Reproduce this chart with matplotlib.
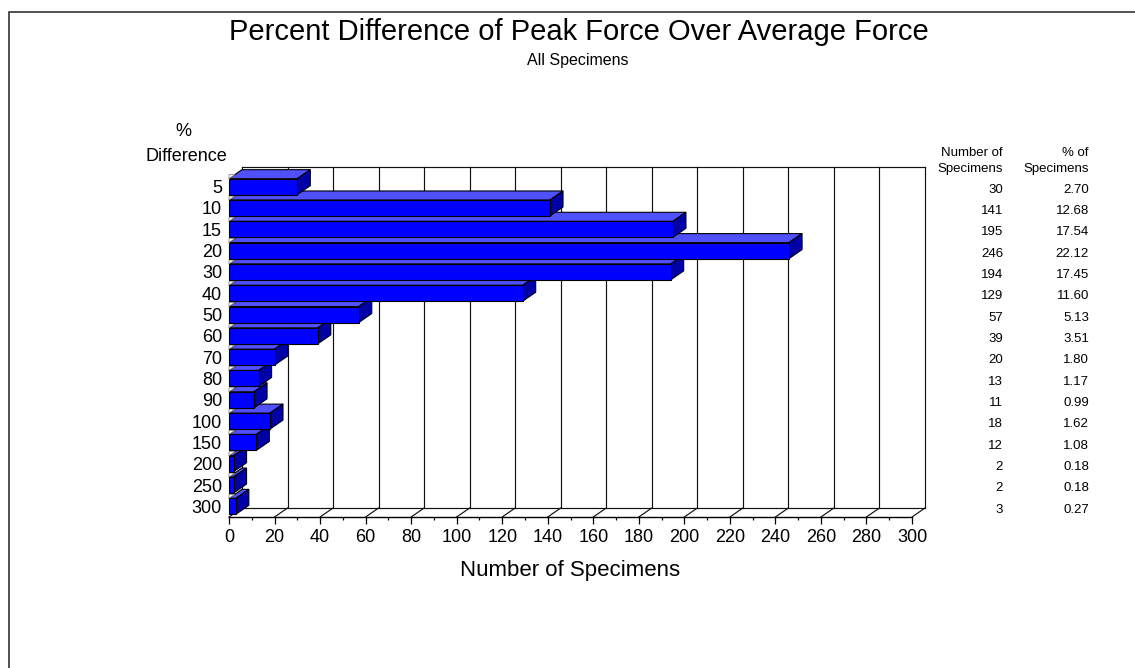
import numpy as np
import matplotlib
matplotlib.use('Agg')
import matplotlib.pyplot as plt
from matplotlib.patches import Polygon, Rectangle
from matplotlib.transforms import blended_transform_factory
from matplotlib.ticker import MultipleLocator

plt.rcParams['font.family'] = ['Liberation Sans', 'DejaVu Sans']

# Histogram of percent difference classes
categories = ['5', '10', '15', '20', '30', '40', '50', '60', '70', '80',
              '90', '100', '150', '200', '250', '300']
counts = [30, 141, 195, 246, 194, 129, 57, 39, 20, 13, 11, 18, 12, 2, 2, 3]
percents = ['2.70', '12.68', '17.54', '22.12', '17.45', '11.60', '5.13', '3.51',
            '1.80', '1.17', '0.99', '1.62', '1.08', '0.18', '0.18', '0.27']
x_ticks = list(range(0, 301, 20))

W, H = 1135, 668
fig = plt.figure(figsize=(W / 100, H / 100), dpi=100)

def fx(px):
    return px / W

def fy(py):
    return 1 - py / H

# front plane of the plot box, in pixels
left, right, top, bottom = 229, 912, 176, 517
ax = fig.add_axes([fx(left), fy(bottom), fx(right - left), (bottom - top) / H])
n = len(categories)
ax.set_xlim(0, 300)
ax.set_ylim(n - 0.5, -0.5)
ax.patch.set_visible(False)
for s in ['top', 'right', 'left']:
    ax.spines[s].set_visible(False)
ax.spines['bottom'].set_linewidth(1.0)

# depth offset of the 3D look, in data units
dx = 13 * 300 / (right - left)
dy = -9 * n / (bottom - top)

y0, y1 = n - 0.5, -0.5
lc = '#111111'
# back wall with grid lines
for xv in x_ticks:
    ax.plot([xv + dx, xv + dx], [y0 + dy, y1 + dy], color=lc, lw=0.85,
            clip_on=False, zorder=1)
    ax.plot([xv, xv + dx], [y0, y0 + dy], color=lc, lw=0.85,
            clip_on=False, zorder=1)
ax.plot([dx, 300 + dx], [y1 + dy, y1 + dy], color=lc, lw=0.85, clip_on=False, zorder=1)
ax.plot([dx, 300 + dx], [y0 + dy, y0 + dy], color=lc, lw=0.85, clip_on=False, zorder=1)

# 3D bars: front face via barh, then top and side faces
h = 0.75
front_c, top_c, side_c = '#0000FF', '#5050FF', '#0000A6'
ypos = np.arange(n)
bars = ax.barh(ypos, counts, height=h, color=front_c, edgecolor='black',
               linewidth=0.8, clip_on=False)
for i, (b, v) in enumerate(zip(bars, counts)):
    z = 10 + 3 * (n - i)
    b.set_zorder(z)
    yt = i - h / 2
    yb = i + h / 2
    topf = Polygon([(0, yt), (v, yt), (v + dx, yt + dy), (dx, yt + dy)],
                   closed=True, facecolor=top_c, edgecolor='black',
                   linewidth=0.8, zorder=z - 1, clip_on=False)
    side = Polygon([(v, yt), (v + dx, yt + dy), (v + dx, yb + dy), (v, yb)],
                   closed=True, facecolor=side_c, edgecolor='black',
                   linewidth=0.8, zorder=z - 1, clip_on=False)
    cap = Polygon([(0, yt), (dx * 0.45, yt + dy * 0.45), (0, yt + dy * 0.45)],
                  closed=True, facecolor='white', edgecolor='#888888',
                  linewidth=0.6, zorder=z - 0.5, clip_on=False)
    ax.add_patch(topf)
    ax.add_patch(side)
    ax.add_patch(cap)

ax.set_yticks(ypos)
ax.set_yticklabels(categories, fontsize=13)
ax.tick_params(axis='y', length=0, pad=5)
ax.set_xticks(x_ticks)
ax.xaxis.set_minor_locator(MultipleLocator(10))
ax.tick_params(axis='x', which='major', length=5, width=0.9, labelsize=13, pad=4)
ax.tick_params(axis='x', which='minor', length=2.5, width=0.9)
ax.set_xlabel('Number of Specimens', fontsize=16, labelpad=10)

# axis caption for categories
fig.text(fx(183), fy(131), '%', fontsize=13, ha='center', va='center')
fig.text(fx(186), fy(157), 'Difference', fontsize=13, ha='center', va='center')

# titles
fig.text(fx(579), fy(32), 'Percent Difference of Peak Force Over Average Force',
         fontsize=21, ha='center', va='center')
fig.text(fx(578), fy(60), 'All Specimens', fontsize=11.5, ha='center', va='center')

# side table of counts and shares
tr = blended_transform_factory(fig.transFigure, ax.transData)
fs = 9.5
fig.text(fx(1003), fy(153), 'Number of', fontsize=fs, ha='right', va='center')
fig.text(fx(1003), fy(169), 'Specimens', fontsize=fs, ha='right', va='center')
fig.text(fx(1089), fy(153), '% of', fontsize=fs, ha='right', va='center')
fig.text(fx(1089), fy(169), 'Specimens', fontsize=fs, ha='right', va='center')
for i in range(n):
    ax.text(fx(1003), i + 0.15, str(counts[i]), transform=tr, fontsize=fs,
            ha='right', va='center')
    ax.text(fx(1089), i + 0.15, percents[i], transform=tr, fontsize=fs,
            ha='right', va='center')

# outer frame
fig.patches.append(Rectangle((fx(9), fy(H + 20)), fx(W + 20), (H + 8) / H,
                             transform=fig.transFigure, fill=False,
                             edgecolor='#333333', linewidth=1.2))

fig.savefig('out.png', dpi=100)
